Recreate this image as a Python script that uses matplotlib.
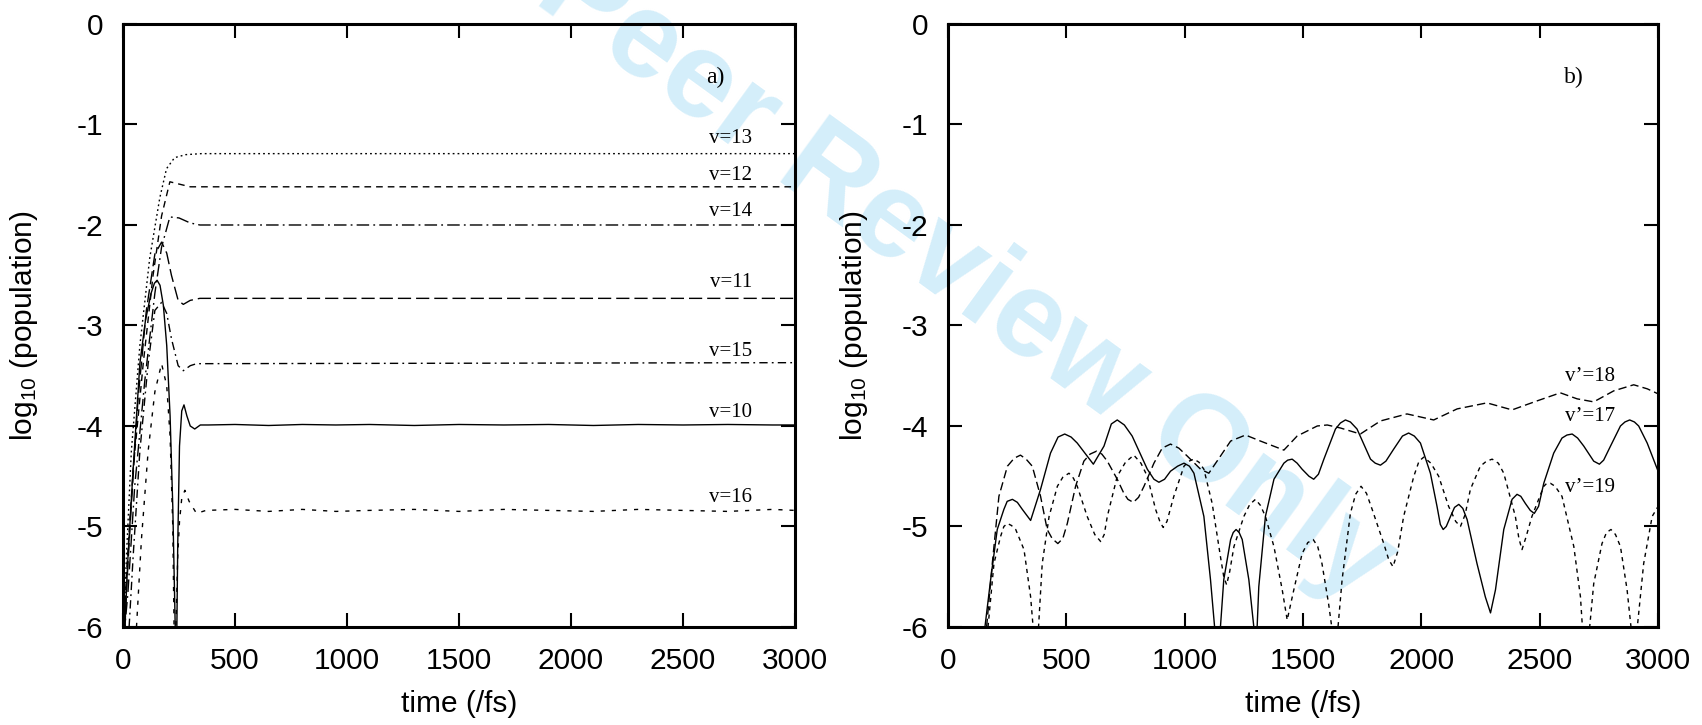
import matplotlib
matplotlib.use("Agg")
import matplotlib.pyplot as plt

plt.rcParams['axes.unicode_minus'] = False
plt.rcParams['mathtext.default'] = 'regular'
plt.rcParams['font.family'] = 'Liberation Sans'

# ---- panel a) : vibrational populations v=10..16 (read off the figure) ----
t13 = [3, 15, 37, 75, 119, 164, 194, 230, 280, 350, 3000]
v13 = [-6.1, -5.3, -4.25, -3.2, -2.33, -1.73, -1.44, -1.33, -1.30, -1.29, -1.29]

t12 = [2, 15, 45, 90, 134, 172, 209, 245, 300, 3000]
v12 = [-6.1, -5.48, -4.43, -3.38, -2.50, -1.91, -1.57, -1.59, -1.62, -1.62]

t14 = [4, 22, 52, 97, 142, 172, 209, 250, 300, 343, 3000]
v14 = [-6.1, -5.65, -4.60, -3.55, -2.68, -2.22, -1.92, -1.93, -1.98, -2.00, -2.00]

t11 = [5, 15, 37, 67, 104, 142, 172, 195, 216, 246, 269, 300, 343, 3000]
v11 = [-6.2, -5.65, -4.78, -3.73, -2.85, -2.29, -2.17, -2.28, -2.50, -2.75, -2.79, -2.75, -2.73, -2.73]

t15 = [27, 45, 75, 112, 142, 172, 195, 216, 246, 269, 300, 328, 3000]
v15 = [-6.0, -5.30, -4.25, -3.38, -2.85, -2.77, -2.88, -3.13, -3.40, -3.45, -3.40, -3.38, -3.37]

t10 = [0, 8, 22, 45, 75, 100, 125, 140, 152, 165, 180, 195, 210, 222, 232, 238,
       244, 252, 262, 272, 285, 300, 320, 345, 380, 500, 650, 800, 950, 1100,
       1300, 1500, 1700, 1900, 2100, 2300, 2500, 2700, 2900, 3000]
v10 = [-7.0, -6.0, -5.3, -4.43, -3.38, -2.95, -2.68, -2.58, -2.55, -2.60, -2.80, -3.20, -3.90, -4.80, -5.90, -6.5,
       -5.2, -4.2, -3.85, -3.79, -3.90, -4.00, -4.03, -3.99, -3.99, -3.985, -3.995, -3.985, -3.99, -3.985,
       -3.995, -3.985, -3.99, -3.985, -3.995, -3.985, -3.99, -3.985, -3.99, -3.99]

t16 = [60, 82, 112, 142, 172, 195, 210, 222, 230, 236, 244, 252, 262, 276, 295, 328, 370,
       500, 650, 800, 950, 1100, 1300, 1500, 1700, 1900, 2100, 2300, 2500, 2700, 2900, 3000]
v16 = [-6.0, -5.13, -4.25, -3.66, -3.38, -3.60, -4.10, -5.00, -6.40, -6.0, -5.30, -4.95, -4.72, -4.64, -4.75, -4.87, -4.84,
       -4.83, -4.85, -4.83, -4.85, -4.84, -4.83, -4.85, -4.83, -4.84, -4.85, -4.83, -4.84, -4.85, -4.83, -4.84]

# ---- panel b) : v'=17..19 ----
t17 = [156, 180, 208, 236, 250, 272, 293, 314, 349, 391, 433, 465, 493, 520, 546, 614, 659, 690, 715, 745,
       778, 842, 870, 891, 915, 940, 970, 997, 1020, 1039, 1081, 1109, 1130, 1139, 1148, 1165, 1194, 1205,
       1217, 1230, 1243, 1271, 1292, 1299, 1306, 1313, 1341, 1377, 1419, 1435, 1454, 1475, 1496, 1525, 1545,
       1565, 1588, 1637, 1658, 1679, 1700, 1728, 1785, 1805, 1827, 1850, 1883, 1920, 1946, 1970, 1996, 2038,
       2066, 2080, 2092, 2105, 2123, 2140, 2158, 2175, 2193, 2235, 2270, 2292, 2313, 2348, 2383, 2404, 2420,
       2439, 2460, 2477, 2495, 2517, 2559, 2594, 2615, 2637, 2660, 2686, 2728, 2752, 2770, 2799, 2841, 2860,
       2880, 2900, 2918, 2954, 3000]
v17 = [-6.0, -5.53, -5.03, -4.83, -4.75, -4.73, -4.76, -4.83, -4.94, -4.63, -4.27, -4.11, -4.08, -4.11, -4.17, -4.38, -4.20, -3.98, -3.94, -3.99,
       -4.10, -4.43, -4.53, -4.56, -4.53, -4.45, -4.40, -4.37, -4.40, -4.47, -4.90, -5.53, -6.1, -6.6, -6.1, -5.53, -5.13, -5.06,
       -5.03, -5.06, -5.13, -5.53, -6.0, -6.5, -6.0, -5.60, -4.90, -4.53, -4.37, -4.34, -4.33, -4.37, -4.43, -4.50, -4.53,
       -4.48, -4.33, -4.03, -3.97, -3.94, -3.96, -4.03, -4.33, -4.37, -4.39, -4.35, -4.23, -4.10, -4.07, -4.10, -4.17, -4.47,
       -4.80, -4.98, -5.03, -5.00, -4.90, -4.81, -4.78, -4.82, -4.93, -5.37, -5.70, -5.86, -5.63, -5.03, -4.73, -4.68, -4.70,
       -4.77, -4.84, -4.87, -4.80, -4.57, -4.27, -4.12, -4.09, -4.08, -4.12, -4.20, -4.35, -4.38, -4.34, -4.20, -4.00, -3.96,
       -3.94, -3.96, -4.00, -4.17, -4.45]

t18 = [163, 187, 215, 251, 280, 306, 330, 356, 391, 419, 440, 464, 485, 504, 539, 574, 600, 628, 650, 673,
       715, 743, 760, 783, 805, 828, 870, 905, 940, 975, 1011, 1067, 1102, 1151, 1194, 1257, 1320, 1419,
       1475, 1560, 1602, 1658, 1742, 1827, 1939, 2052, 2151, 2277, 2383, 2489, 2587, 2658, 2728, 2813,
       2897, 2954, 3000]
v18 = [-6.0, -5.37, -4.70, -4.40, -4.32, -4.29, -4.33, -4.40, -4.70, -5.03, -5.12, -5.17, -5.12, -4.97, -4.60, -4.35, -4.28, -4.25, -4.28, -4.35,
       -4.53, -4.67, -4.73, -4.76, -4.71, -4.60, -4.37, -4.22, -4.18, -4.22, -4.30, -4.43, -4.47, -4.30, -4.15, -4.09, -4.15, -4.24,
       -4.10, -4.00, -3.99, -4.02, -4.08, -3.95, -3.88, -3.94, -3.83, -3.77, -3.84, -3.75, -3.67, -3.73, -3.76, -3.65,
       -3.59, -3.63, -3.68]

t19 = [169, 194, 222, 236, 251, 268, 286, 321, 349, 363, 371, 380, 398, 427, 462, 485, 511, 530, 546, 588,
       620, 645, 660, 673, 715, 750, 785, 815, 842, 877, 895, 909, 925, 954, 997, 1018, 1039, 1060, 1081,
       1116, 1151, 1165, 1177, 1190, 1208, 1250, 1275, 1299, 1320, 1341, 1377, 1412, 1433, 1461, 1496,
       1520, 1543, 1562, 1580, 1608, 1627, 1636, 1644, 1665, 1700, 1722, 1745, 1768, 1792, 1841, 1862,
       1880, 1900, 1925, 1968, 1990, 2010, 2040, 2073, 2115, 2145, 2165, 2185, 2207, 2249, 2275, 2299,
       2325, 2348, 2397, 2412, 2425, 2440, 2467, 2517, 2530, 2545, 2565, 2594, 2644, 2672, 2683, 2695,
       2707, 2728, 2763, 2782, 2801, 2820, 2841, 2869, 2890, 2899, 2908, 2939, 2975, 3000]
v19 = [-6.0, -5.37, -5.10, -5.00, -4.97, -4.99, -5.03, -5.23, -5.70, -6.1, -6.5, -6.1, -5.37, -4.90, -4.60, -4.51, -4.47, -4.52, -4.60, -4.90,
       -5.08, -5.15, -5.08, -4.90, -4.50, -4.36, -4.29, -4.37, -4.50, -4.83, -4.95, -5.01, -4.95, -4.70, -4.40, -4.35, -4.33, -4.36, -4.43,
       -4.77, -5.30, -5.50, -5.58, -5.45, -5.20, -4.90, -4.78, -4.73, -4.79, -4.90, -5.20, -5.63, -5.93, -5.63, -5.27,
       -5.16, -5.13, -5.20, -5.37, -5.77, -6.1, -6.5, -6.1, -5.53, -4.87, -4.68, -4.60, -4.67, -4.83, -5.17, -5.33,
       -5.40, -5.25, -4.90, -4.50, -4.35, -4.31, -4.37, -4.50, -4.80, -4.95, -5.00, -4.88, -4.63, -4.40, -4.35, -4.33,
       -4.37, -4.47, -4.90, -5.12, -5.23, -5.12, -4.90, -4.60, -4.57, -4.57, -4.60, -4.70, -5.20, -5.70, -6.1, -6.5,
       -6.1, -5.57, -5.17, -5.06, -5.03, -5.08, -5.20, -5.63, -6.1, -6.5, -6.1, -5.37, -4.90, -4.80]

left_curves = [
    (t13, v13, (1.3, 2.2), "v=13", -1.14),
    (t12, v12, (4.8, 3.6), "v=12", -1.51),
    (t14, v14, (9, 3, 1.3, 3), "v=14", -1.87),
    (t11, v11, (9.5, 3.6), "v=11", -2.57),
    (t15, v15, (6, 3, 1.3, 3), "v=15", -3.26),
    (t10, v10, None, "v=10", -3.87),
    (t16, v16, (3, 5), "v=16", -4.71),
]
right_curves = [
    (t18, v18, (6, 3), "v\u2019=18", -3.51),
    (t17, v17, None, "v\u2019=17", -3.91),
    (t19, v19, (3, 3), "v\u2019=19", -4.61),
]

fig = plt.figure(figsize=(17.02, 7.25), dpi=100)
ax1 = fig.add_axes([0.0723, 0.1352, 0.3948, 0.8317])
ax2 = fig.add_axes([0.557, 0.1352, 0.4172, 0.8317])

# watermark, drawn behind both panels
fig.text(0.512, 0.712, "For Peer Review Only", rotation=-36, rotation_mode='anchor',
         ha='center', va='center', fontsize=88, fontweight='bold', color='#d4eefa',
         family='Liberation Sans', zorder=-1)

for ax, curves, lab_x, panel, ylab_x in [(ax1, left_curves, 2808, "a)", -0.1235),
                                         (ax2, right_curves, 2713, "b)", -0.110)]:
    ax.patch.set_alpha(0)
    for t, v, dash, name, ly in curves:
        line, = ax.plot(t, v, color='black', lw=1.0)
        if dash is not None:
            line.set_dashes(dash)
        ha = 'right' if ax is ax1 else 'center'
        ax.text(lab_x, ly, name, ha=ha, va='center', fontsize=15, family='Liberation Serif')
    ax.text(2643, -0.53, panel, ha='center', va='center', fontsize=17, family='Liberation Serif')
    ax.set_xlim(0, 3000)
    ax.set_ylim(-6, 0)
    ax.set_xticks(range(0, 3001, 500))
    ax.set_yticks(range(-6, 1))
    ax.tick_params(direction='in', length=10, width=1.5, top=True, right=True,
                   labelsize=21.5, pad=14.5)
    for s in ax.spines.values():
        s.set_linewidth(2.2)
    ax.set_xlabel("time (/fs)", fontsize=21.5)
    ax.set_ylabel("log$_{10}$ (population)", fontsize=21.5)
    ax.xaxis.set_label_coords(0.5, -0.105)
    ax.yaxis.set_label_coords(ylab_x, 0.5)

fig.savefig("out.png", dpi=100)
